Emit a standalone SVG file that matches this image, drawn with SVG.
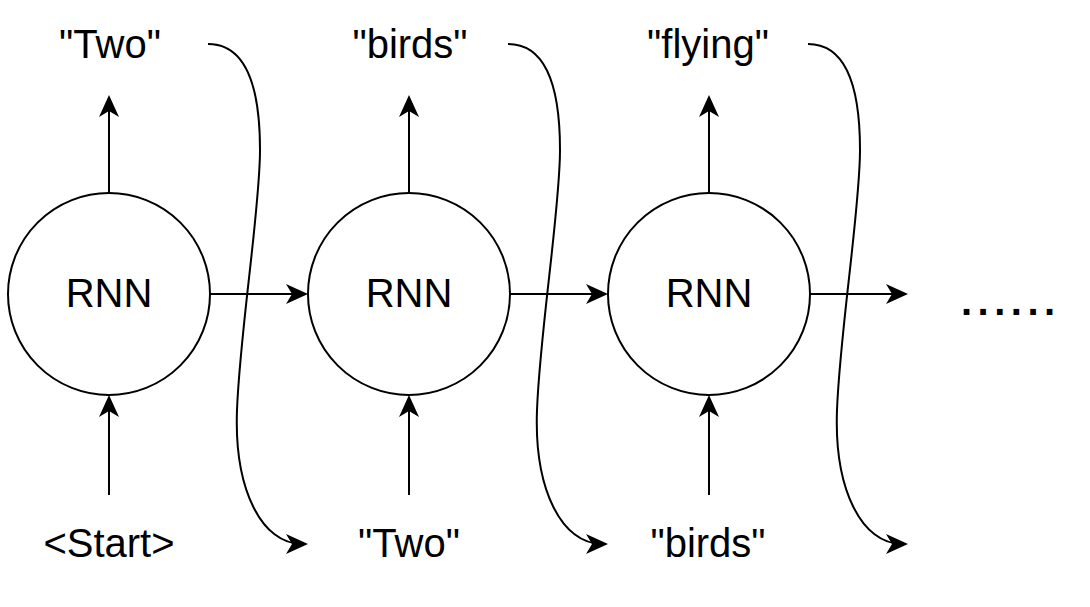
<svg xmlns="http://www.w3.org/2000/svg" width="1090" height="607" viewBox="0 0 1090 607">
<style>
.node circle{fill:#fff;stroke:#000;stroke-width:2}
text{font-family:"Liberation Sans",Arial,Helvetica,sans-serif;font-size:40px;fill:#000;text-anchor:middle}
.edge{fill:none;stroke:#000;stroke-width:2;marker-end:url(#arr)}
</style>
<defs>
<marker id="arr" viewBox="-18 -12 26 24" refX="0" refY="0" markerWidth="26" markerHeight="24" markerUnits="userSpaceOnUse" orient="auto">
<path d="M6,0 L-16,-10 L-10,0 L-16,10 Z" fill="#000"/>
</marker>
</defs>
<rect width="1090" height="607" fill="#fff"/>
<g id="connectors">
<path class="edge" d="M109 193 V101"/>
<path class="edge" d="M409 193 V101"/>
<path class="edge" d="M709 193 V101"/>
<path class="edge" d="M109 495 V401"/>
<path class="edge" d="M409 495 V401"/>
<path class="edge" d="M709 495 V401"/>
<path class="edge" d="M210 294 H302"/>
<path class="edge" d="M510 294 H602"/>
<path class="edge" d="M810 294 H902"/>
<path class="edge" d="M208 44 C248 44 260 90 260 150 C260 210 240 330 237 410 C234 490 262 544 302 544"/>
<path class="edge" d="M508 44 C548 44 560 90 560 150 C560 210 540 330 537 410 C534 490 562 544 602 544"/>
<path class="edge" d="M808 44 C848 44 860 90 860 150 C860 210 840 330 837 410 C834 490 862 544 902 544"/>
</g>
<g id="rnn1" class="node"><circle cx="109" cy="294" r="101"/><text x="109" y="307">RNN</text></g>
<g id="rnn2" class="node"><circle cx="409" cy="294" r="101"/><text x="409" y="307">RNN</text></g>
<g id="rnn3" class="node"><circle cx="709" cy="294" r="101"/><text x="709" y="307">RNN</text></g>
<g id="out1"><text x="110" y="58">"Two"</text></g>
<g id="out2"><text x="410" y="58">"birds"</text></g>
<g id="out3"><text x="708" y="58">"flying"</text></g>
<g id="in1"><text x="109" y="557">&lt;Start&gt;</text></g>
<g id="in2"><text x="409" y="557">"Two"</text></g>
<g id="in3"><text x="708" y="557">"birds"</text></g>
<g id="more"><text x="961" y="315" style="text-anchor:start;font-weight:bold;letter-spacing:5.5px">......</text></g>
</svg>
